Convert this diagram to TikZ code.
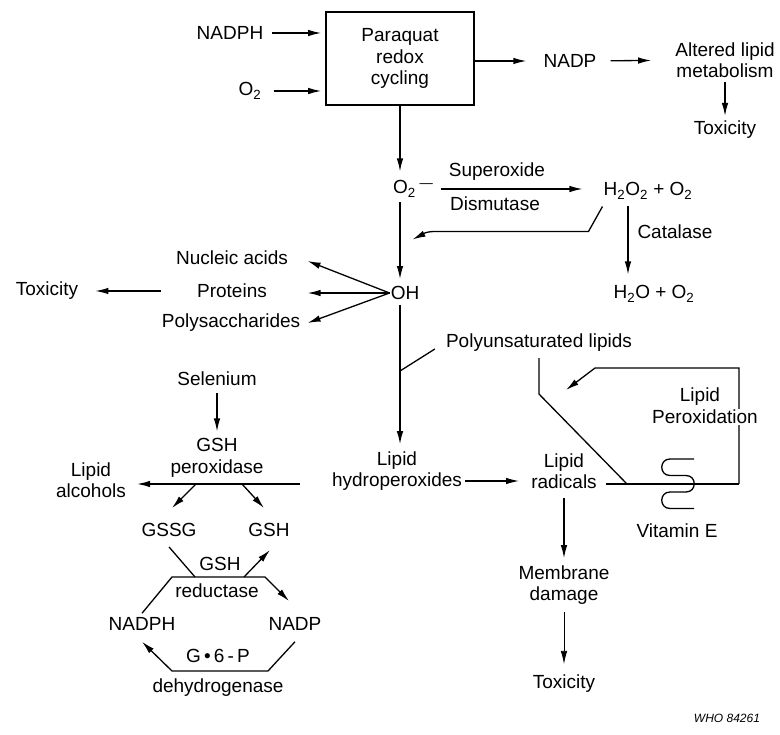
\documentclass[tikz,border=0pt]{standalone}
\usepackage{fontspec}
\setmainfont{Liberation Sans}
\usetikzlibrary{arrows.meta}
\tikzset{
  txt/.style={inner sep=1pt, align=center, font=\fontsize{19}{21.5}\selectfont},
  arr/.style={-{Latex[length=13pt, width=6.5pt]}, line width=1.3pt},
  ln/.style={line width=1.3pt}
}

\begin{document}
\begin{tikzpicture} [x = 1pt, y = -1pt]
\useasboundingbox (0, 0) rectangle (780, 735);
% paraquat cycle
\node [txt] (nadph1) at (230, 33) {NADPH};
\node [txt] (o2a) at (250, 91) {O\textsubscript{2}};
\node [txt, draw, line width=1.6pt, minimum width=148pt, minimum height=93pt] (box) at (400, 58.5) {Paraquat\\redox\\cycling};
\node [txt] (nadp1) at (570, 61) {NADP};
\node [txt] (altered) at (725, 60) {Altered lipid\\metabolism};
\node [txt] (tox1) at (725, 130) {Toxicity};
\draw[arr, shorten <=8pt, shorten >=4pt] (nadph1.east) -- (nadph1.east -| box.west);
\draw[arr, shorten <=11pt, shorten >=4pt] (o2a.east) -- (o2a.east -| box.west);
\draw[arr, shorten >=16pt] (box.east |- nadp1) -- (nadp1);
\draw[arr, shorten <=13pt, shorten >=23pt] (nadp1) -- (altered);
\draw[arr, shorten <=3pt, shorten >=4pt] (altered) -- (tox1);
% superoxide
\node [txt, anchor=west] (o2b) at (392, 189) {O\textsubscript{2}\textsuperscript{\;---}};
\node [txt] (sup) at (497, 172) {Superoxide};
\node [txt] (dis) at (495, 204) {Dismutase};
\node [txt] (h2o2) at (648, 191) {H\textsubscript{2}O\textsubscript{2} + O\textsubscript{2}};
\node [txt] (cat) at (675, 232) {Catalase};
\node [txt] (h2o) at (654, 294) {H\textsubscript{2}O + O\textsubscript{2}};
\node [txt] (oh) at (405, 293) {OH};
\draw[arr, shorten >=8pt] (box.south) -- (box.south |- o2b.north);
\draw[arr, shorten <=6pt, shorten >=20pt] (o2b.east) -- (o2b.east -| h2o2.west);
\draw[arr, shorten <=6pt, shorten >=10pt] ([xshift=-20pt]h2o2.south) -- ([xshift=-20pt]h2o2.south |- h2o.north);
\draw[arr] ([yshift=-6pt]h2o2.south west) -- ++(-14, 25) -- ++(-154, 0) .. controls +(-10, 0) and +(8, -4) .. ++(-22, 8);
\draw[arr, shorten <=4pt, shorten >=6pt] (box.south |- o2b.south) -- (box.south |- oh.north);
% targets of OH
\node [txt] (nucleic) at (232, 258) {Nucleic acids};
\node [txt] (proteins) at (232, 291) {Proteins};
\node [txt] (polysac) at (231, 323) {Polysaccharides};
\node [txt] (tox2) at (47, 291) {Toxicity};
\draw[arr] (oh.west) -- ++(-82, -32);
\draw[arr] (oh.west) -- ++(-82, 0);
\draw[arr] (oh.west) -- ++(-82, 30);
\draw[arr, shorten <=35pt, shorten >=16pt] (proteins) -- (tox2);
% lipid peroxidation
\node [txt] (poly) at (539, 343) {Polyunsaturated lipids};
\node [txt] (hydro) at (397, 471) {Lipid\\hydroperoxides};
\node [txt] (radicals) at (564, 471) {Lipid\\radicals};
\node [txt] (vitE) at (677, 531) {Vitamin E};
\node [txt] (membrane) at (564, 585) {Membrane\\damage};
\node [txt] (tox3) at (564, 684) {Toxicity};
\coordinate (pj) at (400, 371);
\coordinate (dj) at (627, 484);
\coordinate (lpSE) at (739, 484);
\coordinate (lpNE) at (739, 368);
\coordinate (lpNW) at (595, 368);
\draw[arr, shorten <=4pt, shorten >=6pt] (box.south |- oh.south) -- (box.south |- hydro.north);
\draw[ln] (pj) -- ([xshift=-10pt, yshift=-6pt]poly.west);
\draw[ln] ([yshift=-5pt]poly.south) -- ++(0, 36) -- (dj);
\draw[ln] ([xshift=8pt]radicals.east |- dj) -- (lpSE);
\draw[arr] (lpSE) -- (lpNE) -- (lpNW) -- ++(-29, 22);
\node [txt] (lipid) at (700, 397) {Lipid};
\node [txt, fill=white] (perox) at (705, 417) {Peroxidation};
\draw[ln] (694, 459) -- (670, 459) .. controls (659, 459) and (659, 475.5) .. (670, 475.5) -- (686, 475.5)
  .. controls (697, 475.5) and (697, 492) .. (686, 492) -- (670, 492)
  .. controls (659, 492) and (659, 508.5) .. (670, 508.5) -- (694, 508.5);
\draw[arr, shorten <=2pt, shorten >=11pt] ([yshift=-10pt]hydro.east) -- ([yshift=-10pt]radicals.west);
\draw[arr, shorten <=8pt, shorten >=6pt] (radicals) -- (membrane);
\draw[arr, line width=0.7pt, shorten <=6pt, shorten >=10pt] (membrane) -- (tox3);
% glutathione cycle
\node [txt] (selenium) at (217, 379) {Selenium};
\node [txt] (gshpx) at (217, 458) {GSH\\peroxidase};
\node [txt] (alcohols) at (91, 480) {Lipid\\alcohols};
\node [txt] (gssg) at (169, 530) {GSSG};
\node [txt] (gsh2) at (269, 530) {GSH};
\node [txt] (gshr) at (220, 564) {GSH};
\node [txt] (redu) at (217, 591) {reductase};
\node [txt] (nadph2) at (142, 624) {NADPH};
\node [txt] (nadp2) at (295, 624) {NADP};
\node [txt] (g6p) at (218, 656) {G\,\textbullet\,6\,-\,P};
\node [txt] (dehydro) at (218, 688) {dehydrogenase};
\coordinate (pxR) at (300, 484);
\coordinate (pxA) at (196, 484);
\coordinate (pxB) at (242, 484);
\coordinate (rdL) at (172, 577);
\coordinate (rdR) at (265, 577);
\coordinate (rdA) at (195, 577);
\coordinate (rdB) at (244, 577);
\coordinate (g6L) at (172, 671);
\coordinate (g6R) at (268, 671);
\draw[arr, shorten <=6pt, shorten >=6pt] (selenium) -- (gshpx);
\draw[arr] (pxR) -- ([xshift=10pt]alcohols.east |- pxR);
\draw[arr] (pxA) -- ++(-24, 24);
\draw[arr] (pxB) -- ++(22, 24);
\draw[ln] ([yshift=-9pt]gssg.south) -- (rdA);
\draw[arr] (rdB) -- ++(26, -27);
\draw[arr] ([yshift=3pt]nadph2.north) -- (rdL) -- (rdR) -- ++(24, 24);
\draw[arr] ([yshift=-10pt]nadp2.south) -- (g6R) -- (g6L) -- ([yshift=-10pt]nadph2.south);
\node [inner sep=1pt, font=\fontsize{12}{14}\selectfont\itshape] (who) at (727, 718) {WHO 84261};
\end{tikzpicture}
\end{document}
